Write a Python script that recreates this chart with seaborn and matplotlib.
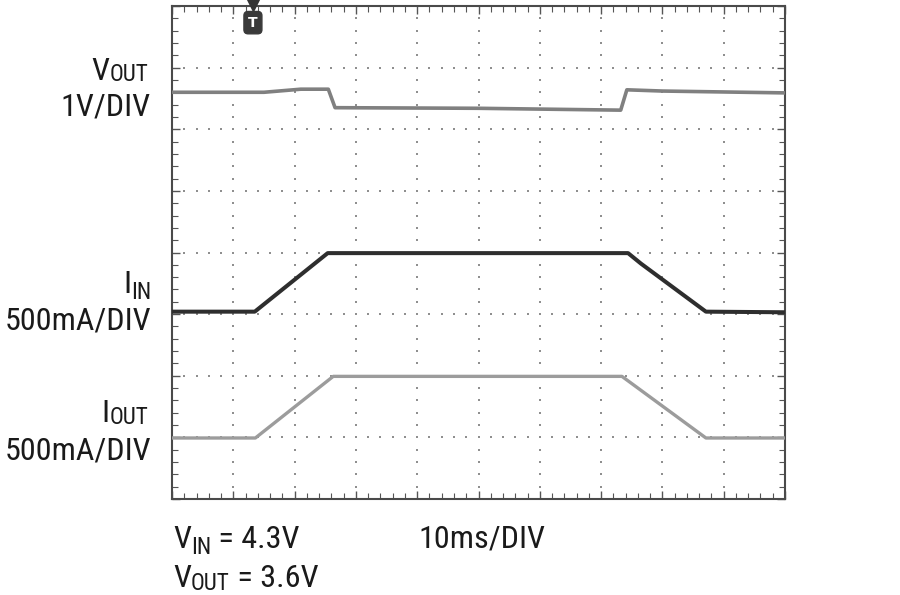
import numpy as np
import pandas as pd
import matplotlib
matplotlib.use("Agg")
import matplotlib.pyplot as plt
from matplotlib import font_manager as fm
import seaborn as sns

# ---- data (time in ms, level in scope divisions from bottom) ----
vout_t = [0, 15.0, 21.0, 25.5, 26.6, 50.0, 73.2, 74.2, 80.0, 100]
vout_d = [6.60, 6.60, 6.65, 6.65, 6.35, 6.34, 6.31, 6.64, 6.62, 6.59]

iin_t = [0, 13.5, 25.4, 74.4, 76.5, 87.1, 100]
iin_d = [3.04, 3.04, 3.99, 3.99, 3.82, 3.04, 3.03]

iout_t = [0, 13.6, 26.3, 73.4, 87.1, 100]
iout_d = [0.99, 0.99, 1.99, 1.99, 0.99, 0.99]

trigger_t = 13.2

sns.set_theme(style="white")

# pick a condensed face if one is installed
chosen = None
stretch = "normal"
for fam, st in [("Liberation Sans Narrow", "normal"),
                ("DejaVu Sans Condensed", "normal"),
                ("Roboto Condensed", "normal"),
                ("Open Sans Condensed", "normal"),
                ("Noto Sans", "condensed"),
                ("Open Sans", "condensed"),
                ("DejaVu Sans", "condensed")]:
    try:
        p = fm.findfont(fm.FontProperties(family=fam, stretch=st),
                        fallback_to_default=False)
        name = p.lower()
        if "narrow" in name or "condensed" in name or "cond" in name:
            chosen, stretch = fam, st
            break
    except Exception:
        pass
if chosen is None:
    chosen = "Liberation Sans"

plt.rcParams["font.family"] = [chosen, "DejaVu Sans"]
plt.rcParams["font.stretch"] = stretch

fig = plt.figure(figsize=(9, 5.95), dpi=100)
ax = fig.add_axes([172 / 900, 1 - 499 / 595, 613 / 900, 493 / 595])
ax.set_xlim(0, 100)
ax.set_ylim(0, 8)

renderer = fig.canvas.get_renderer()

def text_width(s, size):
    t = fig.text(0, 0, s, fontsize=size, stretch=stretch)
    w = t.get_window_extent(renderer).width
    t.remove()
    return w

# font size: fit "500mA/DIV" to ~147 px wide, capped at 25 pt
fs = min(25.0, 24.0 * 147.0 / text_width("500mA/DIV", 24))
fs_sub = fs * 0.72

# grid dots
gx_minor = np.arange(0, 100.01, 2.0)
gy_minor = np.arange(0, 8.001, 0.2)
for yv in range(1, 8):
    ax.plot(gx_minor, np.full_like(gx_minor, yv), ls="none", marker="s",
            ms=1.6, mew=0, color="#8f8f8f", zorder=1)
for xv in range(10, 100, 10):
    ax.plot(np.full_like(gy_minor, xv), gy_minor, ls="none", marker="s",
            ms=1.6, mew=0, color="#8f8f8f", zorder=1)

traces = [
    (vout_t, vout_d, "#808080", 2.6),
    (iin_t, iin_d, "#2e2e2e", 2.9),
    (iout_t, iout_d, "#9c9c9c", 2.4),
]
for tt, dd, col, lw in traces:
    df = pd.DataFrame({"t": tt, "d": dd})
    sns.lineplot(data=df, x="t", y="d", ax=ax, color=col, linewidth=lw,
                 estimator=None, sort=False, zorder=3)

ax.set_xlabel("")
ax.set_ylabel("")
ax.set_xticks(np.arange(0, 101, 10))
ax.set_xticks(np.arange(0, 101, 2), minor=True)
ax.set_yticks(np.arange(0, 9, 1))
ax.set_yticks(np.arange(0, 8.01, 0.2), minor=True)
ax.tick_params(which="both", direction="in", top=True, right=True,
               bottom=True, left=True, labelbottom=False, labelleft=False,
               color="#555555")
ax.tick_params(which="major", length=6, width=1.0)
ax.tick_params(which="minor", length=4, width=0.8)
for sp in ax.spines.values():
    sp.set_color("#4a4a4a")
    sp.set_linewidth(1.5)

# trigger marker
ax.plot([trigger_t], [8.03], marker="v", ms=10, color="#333333",
        clip_on=False, zorder=5)
ax.text(trigger_t, 7.73, "T", ha="center", va="center", color="white",
        fontsize=10, fontweight="bold", family=["DejaVu Sans"],
        bbox=dict(boxstyle="round,pad=0.3", fc="#3a3a3a", ec="#3a3a3a"),
        zorder=6)

TXT = "#1a1a1a"

def put(xp, yp, s, size):
    fig.text(xp / 900, 1 - yp / 595, s, ha="left", va="baseline",
             fontsize=size, color=TXT, stretch=stretch)

def label(xp, yp, main, sub="", rest="", ha="left", drop=4):
    wm = text_width(main, fs)
    ws = text_width(sub, fs_sub) if sub else 0
    wr = text_width(rest, fs) if rest else 0
    x0 = xp - (wm + ws + wr) if ha == "right" else xp
    put(x0, yp, main, fs)
    if sub:
        put(x0 + wm, yp + drop, sub, fs_sub)
    if rest:
        put(x0 + wm + ws, yp, rest, fs)

label(148, 80, "V", "OUT", ha="right", drop=1)
label(151, 115, "1V/DIV", ha="right")
label(151, 293, "I", "IN", ha="right", drop=6)
label(151, 330, "500mA/DIV", ha="right")
label(148, 422, "I", "OUT", ha="right", drop=2)
label(151, 460, "500mA/DIV", ha="right")
label(173, 548, "V", "IN", " = 4.3V", drop=6)
label(173, 587, "V", "OUT", " = 3.6V", drop=3)
label(418, 548, "10ms/DIV")

fig.savefig("out.png", dpi=100, facecolor="white")
